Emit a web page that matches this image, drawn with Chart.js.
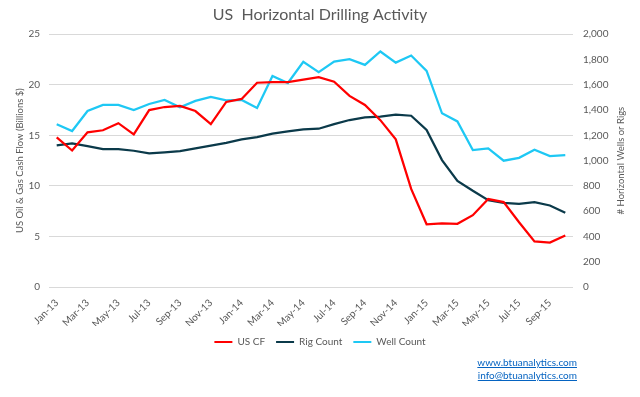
<!DOCTYPE html>
<html>
<head>
<meta charset="utf-8">
<script src="https://cdn.jsdelivr.net/npm/chart.js@4.4.0/dist/chart.umd.min.js"></script>
<style>
  html, body { margin: 0; padding: 0; background: #fff; }
  #wrap { position: relative; width: 640px; height: 397px; }
  .links { position: absolute; right: 63px; top: 356px; font: 10px Lato, sans-serif; line-height: 13px; text-align: right; }
  .links a { color: #0563C1; text-decoration: underline; display: block; }
</style>
</head>
<body>
<div id="wrap">
  <canvas id="chart" width="640" height="397"></canvas>
  <div class="links">
    <a href="#">www.btuanalytics.com</a>
    <a href="#">info@btuanalytics.com</a>
  </div>
</div>
<script>
"use strict";

// Monthly, Jan-13 .. Oct-15
const months = ["Jan-13", "Feb-13", "Mar-13", "Apr-13", "May-13", "Jun-13", "Jul-13", "Aug-13", "Sep-13", "Oct-13", "Nov-13", "Dec-13",
    "Jan-14", "Feb-14", "Mar-14", "Apr-14", "May-14", "Jun-14", "Jul-14", "Aug-14", "Sep-14", "Oct-14", "Nov-14", "Dec-14",
    "Jan-15", "Feb-15", "Mar-15", "Apr-15", "May-15", "Jun-15", "Jul-15", "Aug-15", "Sep-15", "Oct-15"];

// US oil & gas cash flow, billions $ (left axis)
const usCF = [14.8, 13.5, 15.3, 15.5, 16.2, 15.1, 17.5, 17.8, 17.9, 17.4, 16.1, 18.3,
    18.6, 20.2, 20.25, 20.25, 20.5, 20.75, 20.3, 18.9, 18.0, 16.5, 14.6, 9.7,
    6.2, 6.3, 6.25, 7.1, 8.7, 8.4, 6.4, 4.5, 4.4, 5.1];

// Horizontal rig count (right axis)
const rigCount = [1120, 1136, 1115, 1091, 1091, 1078, 1057, 1065, 1075, 1096, 1118, 1141,
    1168, 1186, 1213, 1231, 1247, 1252, 1289, 1321, 1342, 1347, 1363, 1355,
    1242, 1004, 840, 761, 687, 666, 658, 671, 645, 587];

// Horizontal well count (right axis)
const wellCount = [1287, 1234, 1392, 1440, 1440, 1400, 1448, 1480, 1421, 1472, 1503, 1477,
    1480, 1416, 1670, 1614, 1781, 1699, 1783, 1802, 1757, 1863, 1775, 1831,
    1709, 1374, 1310, 1083, 1096, 999, 1022, 1086, 1036, 1044];

const rightTitle = "# Horizontal Wells or Rigs";

const textColor = "#595959";
const gridColor = "#D9D9D9";
const fontFamily = "Lato, 'Open Sans', sans-serif";

function lineSet(label, data, color, axis) {
    return {
        label: label,
        data: data,
        yAxisID: axis,
        borderColor: color,
        backgroundColor: color,
        borderWidth: 2.25,
        pointRadius: 0,
        tension: 0,
        fill: false,
    };
}

// right axis title reads bottom-to-top, like the left one
const rightTitlePlugin = {
    id: "rightTitle",
    afterDraw: function (chart) {
        const c = chart.ctx;
        const area = chart.chartArea;
        c.save();
        c.translate(621, (area.top + area.bottom) / 2);
        c.rotate(-Math.PI / 2);
        c.fillStyle = textColor;
        c.font = "9.5px " + fontFamily;
        c.textAlign = "center";
        c.textBaseline = "middle";
        c.fillText(rightTitle, 0, 0);
        c.restore();
    },
};

const ctx = document.getElementById("chart").getContext("2d");
new Chart(ctx, {
    type: "line",
    data: {
        labels: months,
        datasets: [
            lineSet("US CF", usCF, "#FF0000", "y"),
            lineSet("Rig Count", rigCount, "#0B3A4A", "y1"),
            lineSet("Well Count", wellCount, "#1EC8F4", "y1"),
        ],
    },
    options: {
        responsive: false,
        animation: false,
        layout: { padding: { left: 0, right: 0, top: 0, bottom: 40 } },
        scales: {
            x: {
                offset: true,
                grid: { display: false },
                border: { display: false },
                ticks: {
                    autoSkip: false,
                    maxRotation: 45,
                    minRotation: 45,
                    color: textColor,
                    font: { family: fontFamily, size: 10 },
                    padding: 2,
                    callback: function (value, index) {
                        return index % 2 === 0 ? months[index] : "";
                    },
                },
                afterFit: function (scale) { scale.height = 39; },
            },
            y: {
                position: "left",
                min: 0,
                max: 25,
                ticks: { stepSize: 5, color: textColor, font: { family: fontFamily, size: 10 }, padding: 9 },
                grid: { color: gridColor, drawTicks: false, lineWidth: 1 },
                border: { display: false },
                title: {
                    display: true,
                    text: "US Oil & Gas Cash Flow (Billions $)",
                    color: textColor,
                    font: { family: fontFamily, size: 9.5 },
                    padding: { top: 14, bottom: 0 },
                },
                afterFit: function (scale) { scale.width = 49; },
            },
            y1: {
                position: "right",
                min: 0,
                max: 2000,
                ticks: {
                    stepSize: 200,
                    color: textColor,
                    font: { family: fontFamily, size: 10 },
                    padding: 10,
                    callback: function (value) { return value.toLocaleString("en-US"); },
                },
                grid: { display: false, drawTicks: false },
                border: { display: false },
                afterFit: function (scale) { scale.width = 67; },
            },
        },
        plugins: {
            title: {
                display: true,
                text: "US  Horizontal Drilling Activity",
                color: textColor,
                font: { family: fontFamily, size: 16, weight: "normal" },
                padding: { top: 5, bottom: 10 },
            },
            legend: {
                position: "bottom",
                labels: {
                    color: textColor,
                    font: { family: fontFamily, size: 10 },
                    boxWidth: 18,
                    boxHeight: 2,
                    padding: 11,
                    generateLabels: function (chart) {
                        return Chart.defaults.plugins.legend.labels.generateLabels(chart).map(function (item) {
                            item.lineWidth = 0;
                            return item;
                        });
                    },
                },
            },
            tooltip: { enabled: false },
        },
    },
    plugins: [rightTitlePlugin],
});
</script>
</body>
</html>
